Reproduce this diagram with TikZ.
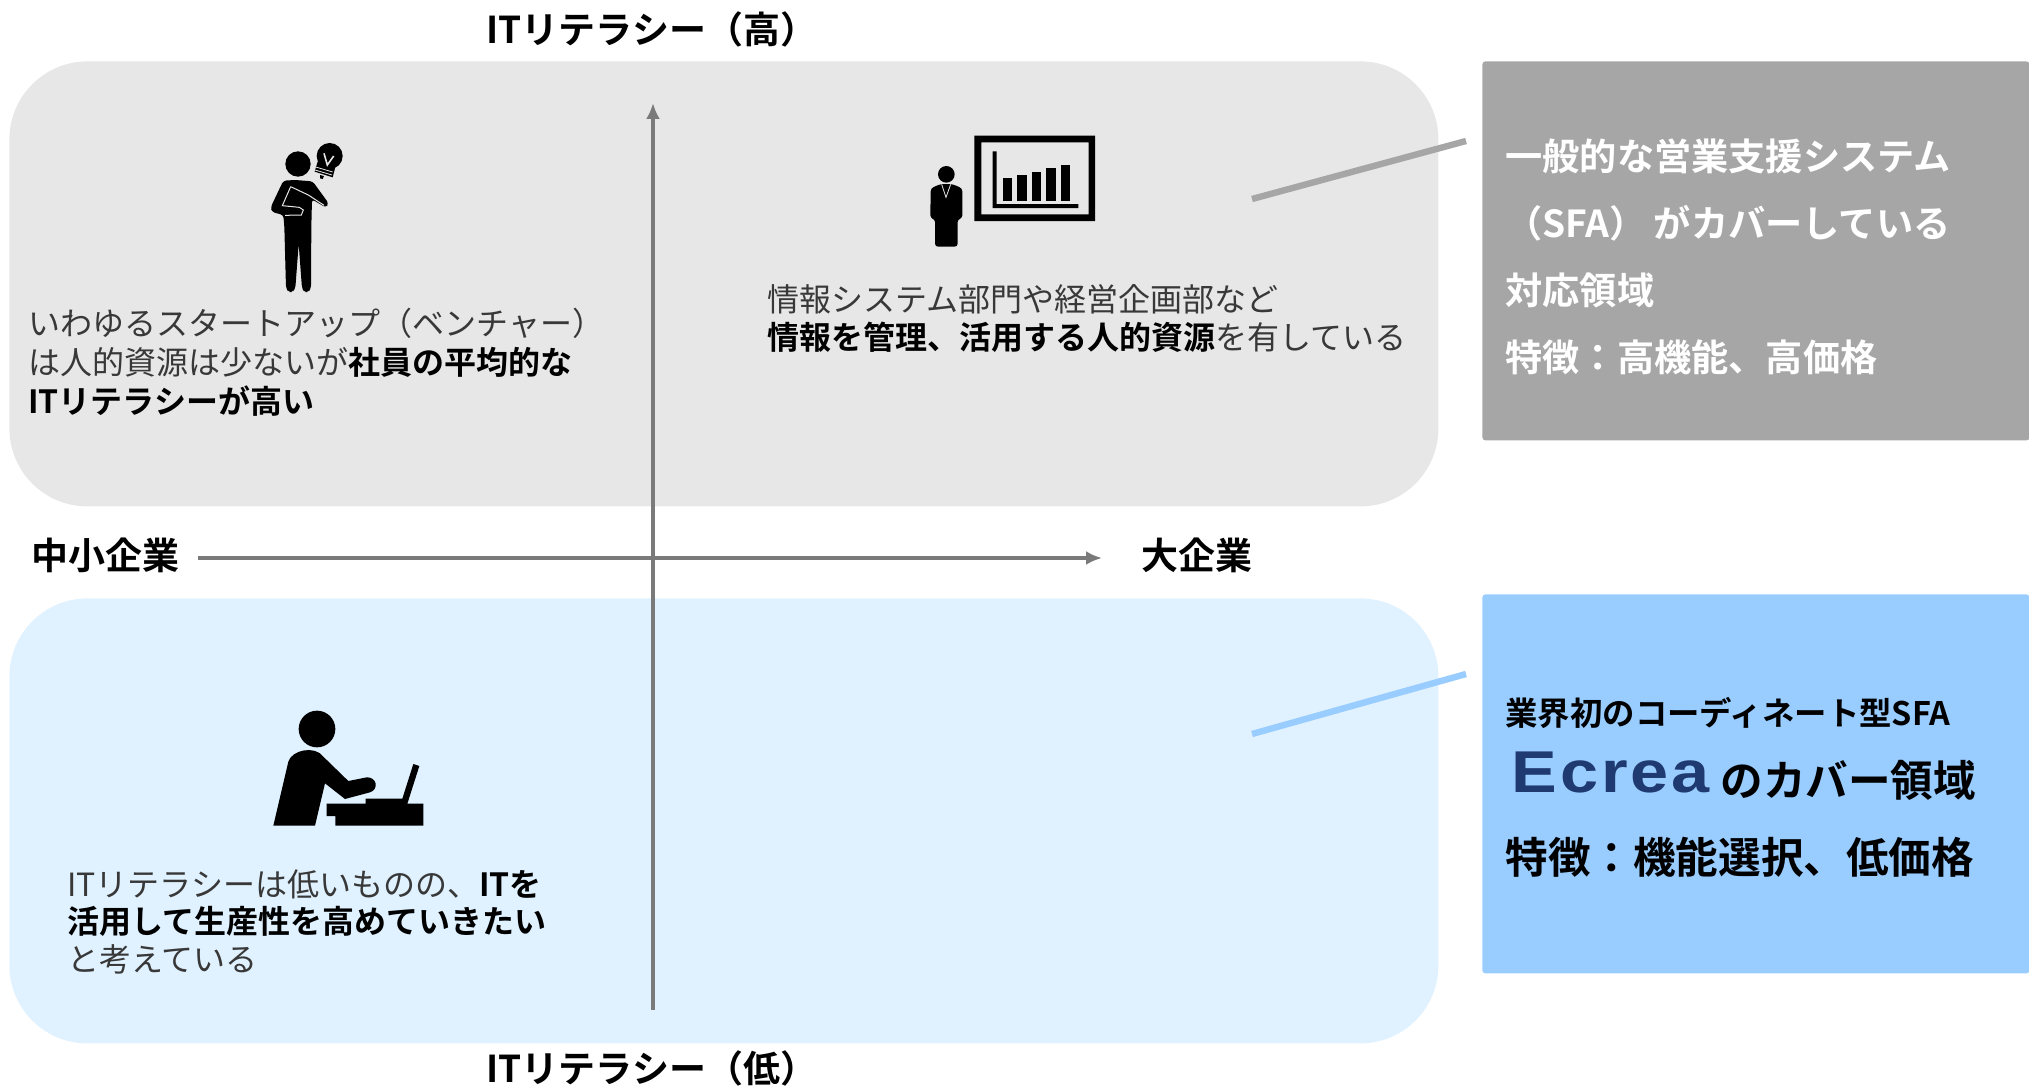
\documentclass[tikz,border=0pt]{standalone}
\usepackage{fontspec}
\setmainfont{Noto Sans CJK JP}[BoldFont={Noto Sans CJK JP Bold}]
\newfontfamily\logofont{Liberation Sans}[FakeStretch=1.16,LetterSpace=5]
\usetikzlibrary{arrows.meta}
\tikzset{
  quad/.style={fill=#1,rounded corners=39pt,minimum width=714.5pt,minimum height=222.5pt,inner sep=0pt,anchor=north west},
  side/.style={fill=#1,rounded corners=1.5pt,minimum width=273.5pt,minimum height=189.5pt,inner sep=0pt,anchor=north west},
  body/.style={anchor=base west,inner sep=0pt,text=black!78,font=\fontsize{16}{19}\selectfont},
  axislabel/.style={anchor=base west,inner sep=0pt,text=black,font=\bfseries\fontsize{18.5}{21}\selectfont},
  sidetext/.style={anchor=base west,inner sep=0pt,text=white,font=\bfseries\fontsize{18.6}{22}\selectfont},
  bluetext/.style={anchor=base west,inner sep=0pt,text=black,font=\bfseries\fontsize{21.3}{25}\selectfont},
  axisline/.style={draw=black!52,line width=1.8pt,-{Latex[length=8pt,width=7pt]}},
  leader/.style={draw=#1,line width=3.2pt},
  icon/.style={x=0.16667pt,y=-0.16667pt}
}
\newcommand{\bk}[1]{\textcolor{black}{\textbf{#1}}}
\definecolor{topq}{HTML}{E7E7E7}
\definecolor{botq}{HTML}{E0F2FF}
\definecolor{grayside}{HTML}{A6A6A6}
\definecolor{blueside}{HTML}{99CCFF}
\definecolor{logoblue}{HTML}{1F3A70}
\begin{document}
\begin{tikzpicture}[x=0.5pt,y=-0.5pt]
\useasboundingbox (0,0) rectangle (2029,1086);
\node[quad=topq] (topbox) at (9,61) {};
\node[quad=botq] (botbox) at (9,598) {};
\node[side=grayside] (grayb) at (1482,61) {};
\node[side=blueside] (blueb) at (1482,594) {};

% axes
\coordinate (vb) at (653,1010); \coordinate (vt) at (653,103);
\coordinate (hl) at (198,558); \coordinate (hr) at (1102,558);
\draw[axisline] (vb) -- (vt);
\draw[axisline] (hl) -- (hr);

% leaders
\coordinate (g1) at (1252,199); \coordinate (g2) at (1466,141);
\coordinate (b1) at (1252,734); \coordinate (b2) at (1466,674);
\draw[leader=grayside] (g1) -- (g2);
\draw[leader=blueside] (b1) -- (b2);

% axis labels
\node[axislabel] (lhigh) at (486,44) {ITリテラシー（高）};
\node[axislabel] (llow) at (486,1082) {ITリテラシー（低）};
\node[axislabel] (lsmall) at (31,569) {中小企業};
\node[axislabel] (lbig) at (1141,569) {大企業};

% quadrant texts
\node[body] (t1) at (28,335) {いわゆるスタートアップ（ベンチャー）};
\node[body] (t2) at (28,374) {は人的資源は少ないが\bk{社員の平均的な}};
\node[body] (t3) at (28,413) {\bk{ITリテラシーが高い}};
\node[body] (t4) at (767,311) {情報システム部門や経営企画部など};
\node[body] (t5) at (767,349) {\bk{情報を管理、活用する人的資源}を有している};
\node[body] (t6) at (67,896) {ITリテラシーは低いものの、\bk{ITを}};
\node[body] (t7) at (67,933) {\bk{活用して生産性を高めていきたい}};
\node[body] (t8) at (67,971) {と考えている};

% gray box text
\node[sidetext] (s1) at (1505,170) {一般的な営業支援システム};
\node[sidetext] (s2) at (1505,237) {（SFA）\hspace{3.5pt}がカバーしている};
\node[sidetext] (s3) at (1505,304) {対応領域};
\node[sidetext] (s4) at (1505,371) {特徴：高機能、高価格};

% blue box text
\node[anchor=base west,inner sep=0pt,text=black,font=\bfseries\fontsize{16.2}{19}\selectfont] (b1t) at (1505,725) {業界初のコーディネート型SFA};
\node[anchor=base west,inner sep=0pt,text=logoblue,font=\logofont\bfseries\fontsize{29.5}{32}\selectfont] (logo) at (1511,792) {Ecrea};
\node[bluetext] (b2t) at (1720,796) {のカバー領域};
\node[bluetext] (b3t) at (1505,873) {特徴：機能選択、低価格};

% icon: thinker
\begin{scope}[shift={(240,120)},icon]
  \fill[black] (174,132) circle (38);
  \fill[black,rounded corners=1.5pt] (130,182) -- (165,180) -- (218,184) -- (266,250) -- (258,263) -- (216,238)
    -- (214,320) -- (213,505) -- (205,516) -- (193,516) -- (186,505) -- (176,372) -- (166,505) -- (158,516)
    -- (146,516) -- (138,505) -- (133,320) -- (130,285) -- (96,276) -- (92,262) -- cycle;
  \draw[topq,line width=0.5pt] (152,200) -- (127,257) -- (178,262) -- (190,270) -- (184,285) -- (135,286);
  \draw[topq,line width=0.5pt] (152,200) -- (205,225) -- (252,256);
  \fill[black] (269,108) circle (39);
  \fill[black] (233,125) -- (285,145) -- (278,172) -- (224,155) -- cycle;
  \fill[black] (240,165) -- (252,168) -- (248,177) -- (240,175) -- cycle;
  \draw[topq,line width=0.4pt] (227,141) -- (278,156) (225,150) -- (276,165);
  \draw[topq,line width=0.8pt] (252,100) -- (262,135) -- (281,108);
\end{scope}

% icon: presenter
\begin{scope}[shift={(910,120)},icon]
  \fill[black,even odd rule] (193,47) rectangle (555,303) (214,67) rectangle (536,283);
  \fill[black] (248,94) -- (260,94) -- (260,252) -- (505,252) -- (505,264) -- (248,264) -- cycle;
  \fill[black] (279,174) rectangle (306,243);
  \fill[black] (322,166) rectangle (350,243);
  \fill[black] (366,155) rectangle (394,243);
  \fill[black] (409,145) rectangle (437,243);
  \fill[black] (453,134) rectangle (480,243);
  \fill[black] (109,163) circle (25);
  \fill[black,rounded corners=1.5pt] (62,205) -- (92,192) -- (126,192) -- (157,205) -- (157,295) -- (143,297) -- (143,380)
    -- (75,380) -- (75,297) -- (61,295) -- cycle;
  \draw[topq,line width=0.4pt] (95,193) -- (108,232) -- (122,193);
\end{scope}

% icon: laptop user
\begin{scope}[shift={(260,700)},icon]
  \fill[black] (171,87) circle (55);
  \fill[black] (40,377) -- (85,185) .. controls (95,150) and (165,135) .. (190,170) -- (265,243) -- (320,232)
    .. controls (350,230) and (358,268) .. (330,277) -- (255,297) -- (195,250) -- (165,377) -- cycle;
  \fill[black] (200,311) -- (317,311) -- (317,296) -- (427,296) -- (460,192) -- (478,198) -- (442,311) -- (490,311)
    -- (490,377) -- (226,377) -- (226,348) -- (200,348) -- cycle;
\end{scope}
\end{tikzpicture}
\end{document}
